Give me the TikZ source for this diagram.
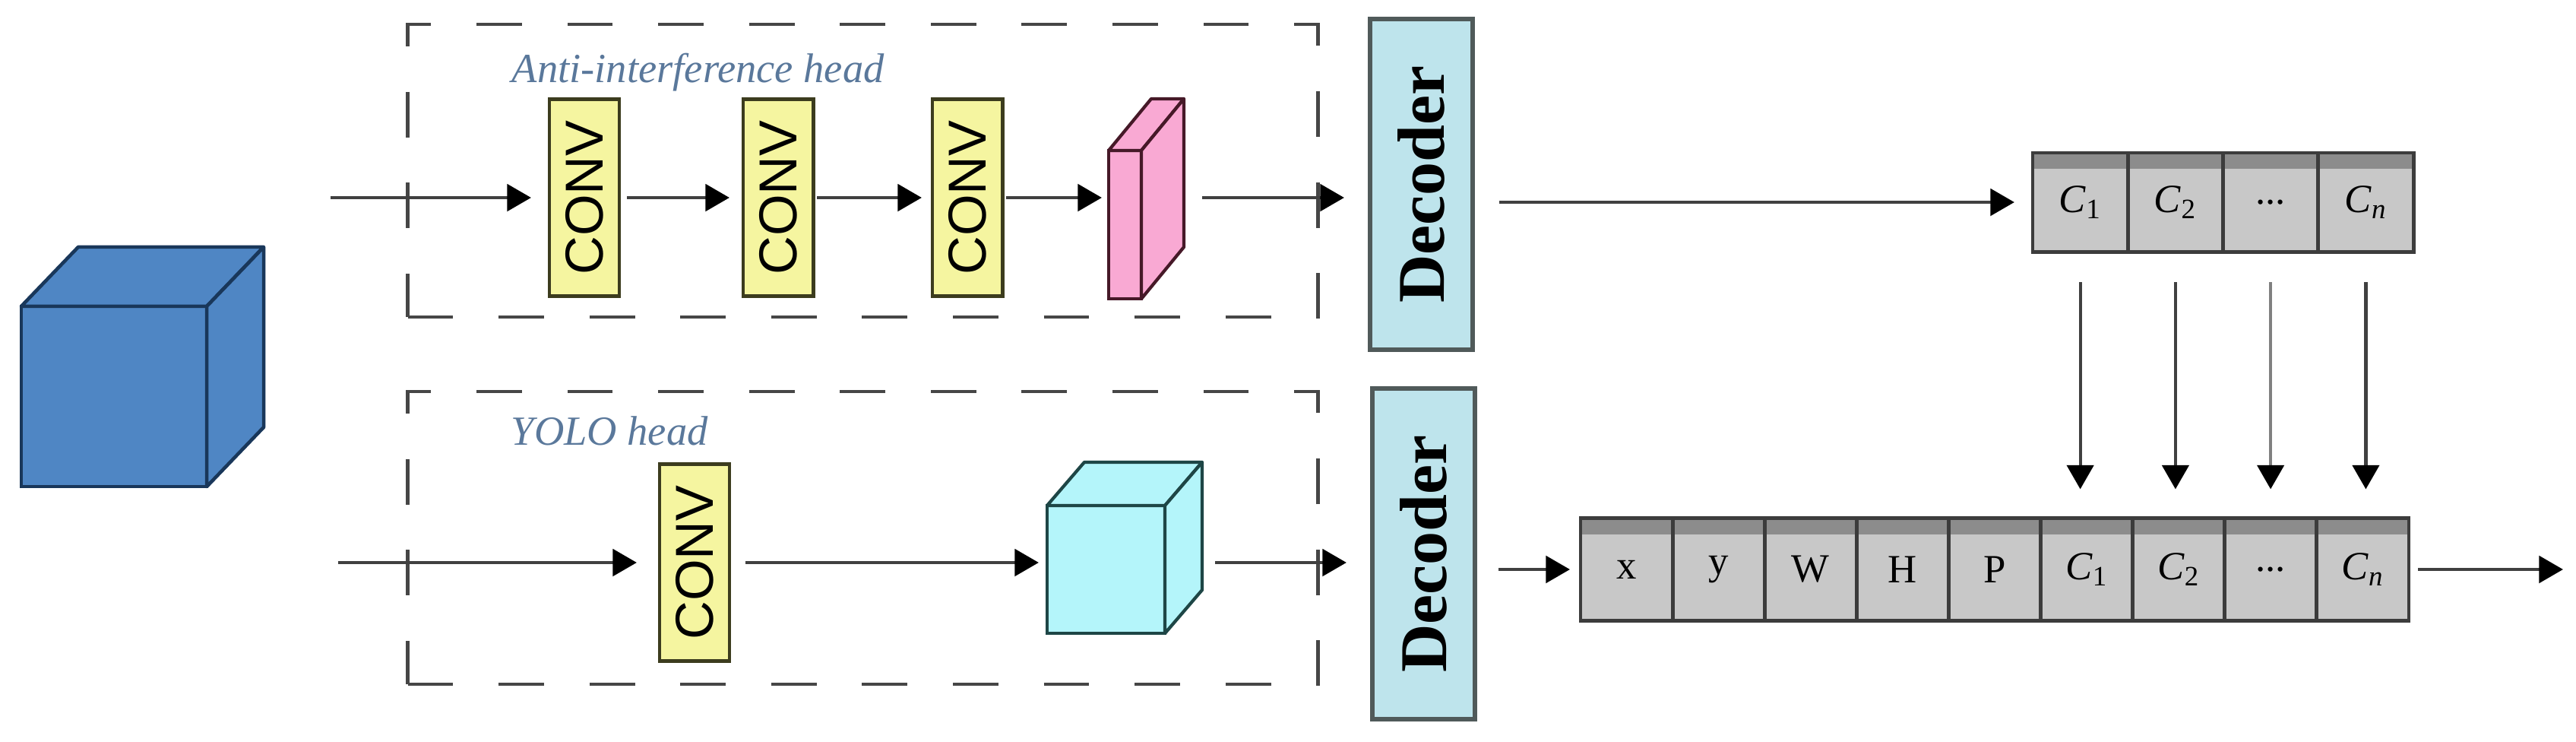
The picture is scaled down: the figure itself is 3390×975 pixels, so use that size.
\documentclass[tikz,border=0pt]{standalone}
\usepackage{fontspec}
\setmainfont{Liberation Serif}
\newfontfamily\convfont{Liberation Sans}
\usetikzlibrary{arrows.meta}
\definecolor{arrowgray}{RGB}{64,64,64}
\definecolor{dashgray}{RGB}{70,70,70}
\definecolor{convfill}{RGB}{245,245,160}
\definecolor{convedge}{RGB}{60,60,30}
\definecolor{decfill}{RGB}{190,228,236}
\definecolor{decedge}{RGB}{80,90,90}
\definecolor{cellfill}{RGB}{200,200,200}
\definecolor{celledge}{RGB}{60,60,60}
\definecolor{cellband}{RGB}{140,140,140}
\definecolor{labelblue}{RGB}{90,120,155}
\definecolor{bluefill}{RGB}{79,134,196}
\definecolor{blueedge}{RGB}{25,55,90}
\definecolor{cyanfill}{RGB}{180,245,250}
\definecolor{cyanedge}{RGB}{30,70,70}
\definecolor{pinkfill}{RGB}{249,169,211}
\definecolor{pinkedge}{RGB}{70,25,40}
\begin{document}
\begin{tikzpicture}[x=0.01cm,y=-0.01cm,
  arr/.style={draw=arrowgray, line width=1.4pt, -{Triangle[length=9pt,width=10pt,color=black]}},
  varr/.style={draw=arrowgray, line width=1.2pt, -{Triangle[length=9pt,width=10pt,color=black]}, shorten <=0.40cm, shorten >=0.38cm},
  convbox/.style={draw=convedge, fill=convfill, line width=1.4pt, minimum width=0.92cm, minimum height=2.58cm, inner sep=0pt, outer sep=0pt, font=\convfont\fontsize{20}{24}\selectfont},
  decbox/.style={draw=decedge, fill=decfill, line width=1.6pt, minimum width=1.35cm, minimum height=4.35cm, inner sep=0pt, outer sep=0pt, font=\bfseries\fontsize{25}{30}\selectfont},
  cell/.style={draw=celledge, fill=cellfill, line width=1.4pt, minimum width=1.211cm, minimum height=1.35cm, inner sep=0pt, outer sep=0pt, font=\fontsize{15}{18}\selectfont},
  tcell/.style={cell, minimum width=1.2525cm, minimum height=1.30cm},
  headlabel/.style={text=labelblue, font=\itshape\fontsize{15.5}{18}\selectfont, anchor=base west, inner sep=0pt},
  dashbox/.style={draw=dashgray, line width=1.3pt, dash pattern=on 17pt off 17pt},
  face/.style={inner sep=0pt, outer sep=0pt}
]
\useasboundingbox (0,0) rectangle (3390,975);

% input cube
\node[face, draw=blueedge, fill=bluefill, line width=1.3pt, minimum width=2.44cm, minimum height=2.37cm] (incube) at (150,521.5) {};
\draw[blueedge, fill=bluefill, line width=1.3pt, line join=round] (incube.north west) -- ++(75,-78) -- ++(244,0) -- (incube.north east) -- cycle;
\draw[blueedge, fill=bluefill, line width=1.3pt, line join=round] (incube.north east) -- ++(75,-78) -- ++(0,237) -- (incube.south east) -- cycle;

% dashed boxes
\node[dashbox, minimum width=11.97cm, minimum height=3.85cm, inner sep=0pt] (box1) at (1135.5,224.5) {};
\node[dashbox, minimum width=11.97cm, minimum height=3.85cm, inner sep=0pt] (box2) at (1135.5,707.5) {};
\node[headlabel] (lab1) at (673,108) {Anti-interference head};
\node[headlabel] (lab2) at (672,585) {YOLO head};

% top branch
\coordinate (in1) at (435,260);
\node[convbox] (c1) at (769,260) {\rotatebox{90}{CONV}};
\node[convbox] (c2) at (1024,260) {\rotatebox{90}{CONV}};
\node[convbox] (c3) at (1273,260) {\rotatebox{90}{CONV}};
\node[face, draw=pinkedge, fill=pinkfill, line width=1.2pt, minimum width=0.43cm, minimum height=1.95cm] (pink) at (1480.5,295.5) {};
\draw[pinkedge, fill=pinkfill, line width=1.2pt, line join=round] (pink.north west) -- ++(56,-68) -- ++(43,0) -- (pink.north east) -- cycle;
\draw[pinkedge, fill=pinkfill, line width=1.2pt, line join=round] (pink.north east) -- ++(56,-68) -- ++(0,195) -- (pink.south east) -- cycle;
\coordinate (pr) at (1558,260);
\node[decbox] (d1) at (1870.5,242.5) {\rotatebox{90}{Decoder}};

\draw[arr, shorten >=0.24cm] (in1) -- (in1 -| c1.west);
\draw[arr, shorten <=0.10cm, shorten >=0.18cm] (c1.east) -- (c2.west);
\draw[arr, shorten <=0.05cm, shorten >=0.14cm] (c2.east) -- (c3.west);
\draw[arr, shorten <=0.05cm, shorten >=0.09cm] (c3.east) -- (c3.east -| pink.west);
\draw[arr, shorten <=0.24cm, shorten >=0.34cm] (pr) -- (pr -| d1.west);

% bottom branch
\coordinate (in2) at (445,740);
\node[convbox] (cy) at (914,740) {\rotatebox{90}{CONV}};
\node[face, draw=cyanedge, fill=cyanfill, line width=1.2pt, minimum width=1.55cm, minimum height=1.68cm] (cube) at (1455.5,749) {};
\draw[cyanedge, fill=cyanfill, line width=1.2pt, line join=round] (cube.north west) -- ++(49,-57) -- ++(155,0) -- (cube.north east) -- cycle;
\draw[cyanedge, fill=cyanfill, line width=1.2pt, line join=round] (cube.north east) -- ++(49,-57) -- ++(0,168) -- (cube.south east) -- cycle;
\coordinate (cr) at (1582,740);
\node[decbox] (d2) at (1873.5,728.5) {\rotatebox{90}{Decoder}};

\draw[arr, shorten >=0.30cm] (in2) -- (in2 -| cy.west);
\draw[arr, shorten <=0.21cm, shorten >=0.11cm] (cy.east) -- (cy.east -| cube.west);
\draw[arr, shorten <=0.17cm, shorten >=0.34cm] (cr) -- (cr -| d2.west);

% top table
\node[tcell] (t1) at (2737.6,266) {\textit{C}\textsubscript{1}};
\node[tcell] (t2) at (2862.9,266) {\textit{C}\textsubscript{2}};
\node[tcell] (t3) at (2988.1,266) {...};
\node[tcell] (t4) at (3113.4,266) {\textit{C}\textsubscript{\textit{n}}};
\fill[cellband] ([yshift=-0.7pt]t1.north west) rectangle ([yshift=-6pt]t4.north east);
\draw[celledge, line width=1.4pt] (t1.north west) rectangle (t4.south east);
\foreach \i in {1,2,3} {\draw[celledge, line width=1.4pt] (t\i.north east) -- (t\i.south east);}

% bottom table
\node[cell] (b1) at (2140.6,749) {x};
\node[cell] (b2) at (2261.7,749) {y};
\node[cell] (b3) at (2382.8,749) {W};
\node[cell] (b4) at (2503.9,749) {H};
\node[cell] (b5) at (2625.0,749) {P};
\node[cell] (b6) at (2746.1,749) {\textit{C}\textsubscript{1}};
\node[cell] (b7) at (2867.2,749) {\textit{C}\textsubscript{2}};
\node[cell] (b8) at (2988.3,749) {...};
\node[cell] (b9) at (3109.4,749) {\textit{C}\textsubscript{\textit{n}}};
\fill[cellband] ([yshift=-0.7pt]b1.north west) rectangle ([yshift=-6pt]b9.north east);
\draw[celledge, line width=1.4pt] (b1.north west) rectangle (b9.south east);
\foreach \i in {1,...,8} {\draw[celledge, line width=1.4pt] (b\i.north east) -- (b\i.south east);}
\coordinate (out) at (3373,749);

\draw[arr, shorten <=0.35cm, shorten >=0.24cm] (d1.east |- t1.west) -- (t1.west);
\draw[arr, shorten <=0.31cm, shorten >=0.14cm] (d2.east |- b1.west) -- (b1.west);
\draw[arr, shorten <=0.12cm] (b9.east) -- (out);

\draw[varr] (t1.south) -- (t1.south |- b6.north);
\draw[varr] (t2.south) -- (t2.south |- b7.north);
\draw[varr, draw=gray] (t3.south) -- (t3.south |- b8.north);
\draw[varr] (t4.south) -- (t4.south |- b9.north);
\end{tikzpicture}
\end{document}
